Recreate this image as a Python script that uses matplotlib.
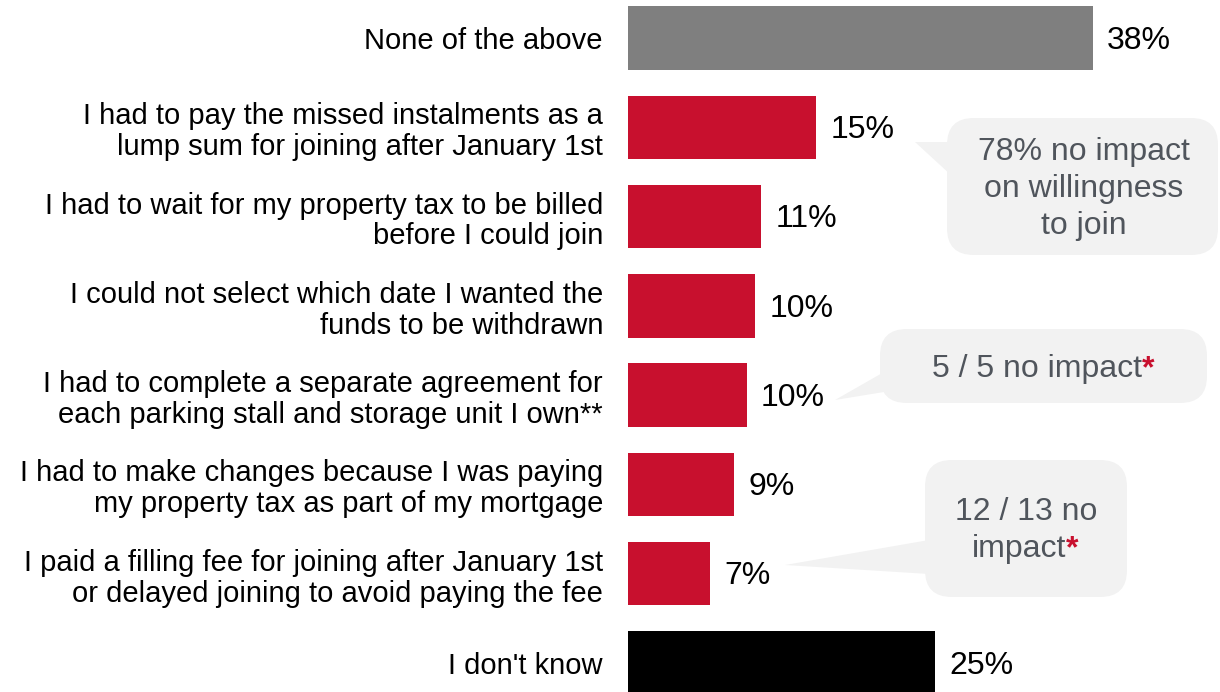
import matplotlib.pyplot as plt
from matplotlib.patches import FancyBboxPatch, Polygon
from matplotlib.text import Annotation

plt.rcParams['font.family'] = ['Liberation Sans', 'DejaVu Sans']

# survey answers, top to bottom
labels = [
    "None of the above",
    "I had to pay the missed instalments as a\nlump sum for joining after January 1st",
    "I had to wait for my property tax to be billed\nbefore I could join",
    "I could not select which date I wanted the\nfunds to be withdrawn",
    "I had to complete a separate agreement for\neach parking stall and storage unit I own**",
    "I had to make changes because I was paying\nmy property tax as part of my mortgage",
    "I paid a filling fee for joining after January 1st\nor delayed joining to avoid paying the fee",
    "I don't know",
]
values = [38.0, 15.4, 10.9, 10.4, 9.7, 8.7, 6.7, 25.1]
colors = ['#7f7f7f'] + ['#c8102e'] * 6 + ['#000000']

W, H = 1220, 692
fig = plt.figure(figsize=(W / 100, H / 100), dpi=100)
ax = fig.add_axes([628 / W, 0, 1 - 628 / W, 1])

ypos = list(range(len(labels)))
ax.barh(ypos, values, height=0.71, color=colors)
for y, v in zip(ypos, values):
    ax.annotate('%.0f%%' % v, xy=(v, y), xytext=(10, -2), textcoords='offset points',
                ha='left', va='center', fontsize=23, color='#000000')

ax.set_xlim(0, 592 / 12.24)
ax.set_ylim(7.325, -0.4255)
ax.set_yticks(ypos)
ax.set_yticklabels(labels, fontsize=21, linespacing=1.13)
ax.tick_params(axis='y', length=0, pad=18)
ax.set_xticks([])
for s in ax.spines.values():
    s.set_visible(False)


# callout bubbles, positions in pixels from the top-left corner
def px(x, y):
    return (x / W, 1 - y / H)


def bubble(x0, y0, x1, y1, tail):
    bx, by = px(x0, y1)
    bw, bh = (x1 - x0) / W, (y1 - y0) / H
    fig.patches.append(FancyBboxPatch((bx, by), bw, bh,
                                      boxstyle='round,pad=0,rounding_size=0.022',
                                      mutation_aspect=W / H,
                                      transform=fig.transFigure,
                                      facecolor='#f2f2f2', edgecolor='none'))
    fig.patches.append(Polygon([px(*p) for p in tail], closed=True,
                               transform=fig.transFigure,
                               facecolor='#f2f2f2', edgecolor='none'))


def star(t):
    # red asterisk right after a callout line
    a = Annotation('*', xy=(1, 1), xycoords=t, ha='left', va='top',
                   fontsize=23, fontweight='bold', color=red, zorder=5)
    fig.add_artist(a)


txt = '#50555c'
red = '#c8102e'

bubble(947, 118, 1218, 255, [(915, 142), (952, 142), (952, 176)])
fig.text(*px(1084, 189), '78% no impact\non willingness\nto join', ha='center', va='center',
         fontsize=23, color=txt, linespacing=1.32)

bubble(880, 329, 1207, 403, [(835, 400), (884, 372), (884, 392)])
t2 = fig.text(*px(1037, 369), '5 / 5 no impact', ha='center', va='center',
              fontsize=23, color=txt)
star(t2)

bubble(925, 460, 1127, 597, [(785, 565), (929, 540), (929, 574)])
fig.text(*px(1026, 512), '12 / 13 no', ha='center', va='center', fontsize=23, color=txt)
t3 = fig.text(*px(1019, 549), 'impact', ha='center', va='center', fontsize=23, color=txt)
star(t3)

fig.savefig('out.png', dpi=100)
